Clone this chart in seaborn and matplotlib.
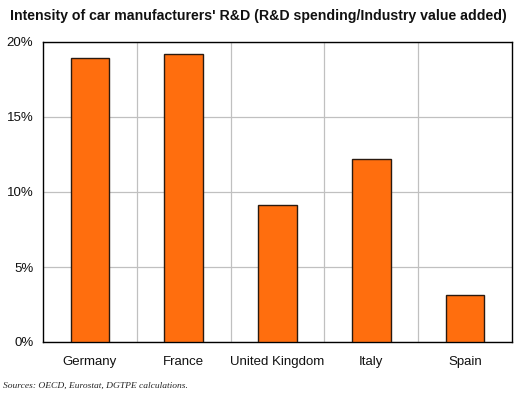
import numpy as np
import pandas as pd
import matplotlib
matplotlib.use('Agg')
import matplotlib.pyplot as plt
import seaborn as sns
from matplotlib.ticker import FuncFormatter

# Data

countries = ['Germany', 'France', 'United Kingdom', 'Italy', 'Spain']
intensity = [18.9, 19.2, 9.15, 12.2, 3.15]
y_ticks = [0, 5, 10, 15, 20]

df = pd.DataFrame({'country': countries, 'intensity': intensity})

sns.set_style('white')
plt.rcParams['font.family'] = ['Liberation Sans', 'DejaVu Sans']

fig = plt.figure(figsize=(5.25, 3.98), dpi=100)
ax = fig.add_axes([43 / 525, 1 - 342 / 398, 469 / 525, 300 / 398])

sns.barplot(data=df, x='country', y='intensity', color='#FF6E0E',
            width=0.41, edgecolor='#2a1a10', linewidth=1.0, saturation=1,
            ax=ax, zorder=3)

ax.set_ylim(0, 20)
ax.set_xlim(-0.5, len(countries) - 0.5)
ax.set_yticks(y_ticks)
ax.yaxis.set_major_formatter(FuncFormatter(lambda v, p: f'{v:.0f}%'))

# grid lines between categories
ax.set_xticks(np.arange(len(countries)))
ax.set_xticks(np.arange(len(countries) - 1) + 0.5, minor=True)
ax.grid(axis='y', which='major', color='#c0c0c0', linewidth=0.9, zorder=0)
ax.grid(axis='x', which='minor', color='#c0c0c0', linewidth=0.9, zorder=0)
ax.tick_params(axis='both', which='both', length=0, labelsize=9.5, colors='#111111')
ax.tick_params(axis='x', pad=10)
ax.tick_params(axis='y', pad=7)

for s in ax.spines.values():
    s.set_color('black')
    s.set_linewidth(1.0)

ax.set_xlabel('')
ax.set_ylabel('')

fig.text(10 / 525, 1 - 16 / 398,
         "Intensity of car manufacturers' R&D (R&D spending/Industry value added)",
         fontsize=10.2, fontweight='bold',
         va='center', ha='left', color='#111111')

fig.text(3 / 525, 1 - 386 / 398, 'Sources: OECD, Eurostat, DGTPE calculations.',
         fontsize=6.8, style='italic', family=['Liberation Serif', 'DejaVu Serif'],
         va='center', ha='left')

fig.savefig('out.png', dpi=100)
